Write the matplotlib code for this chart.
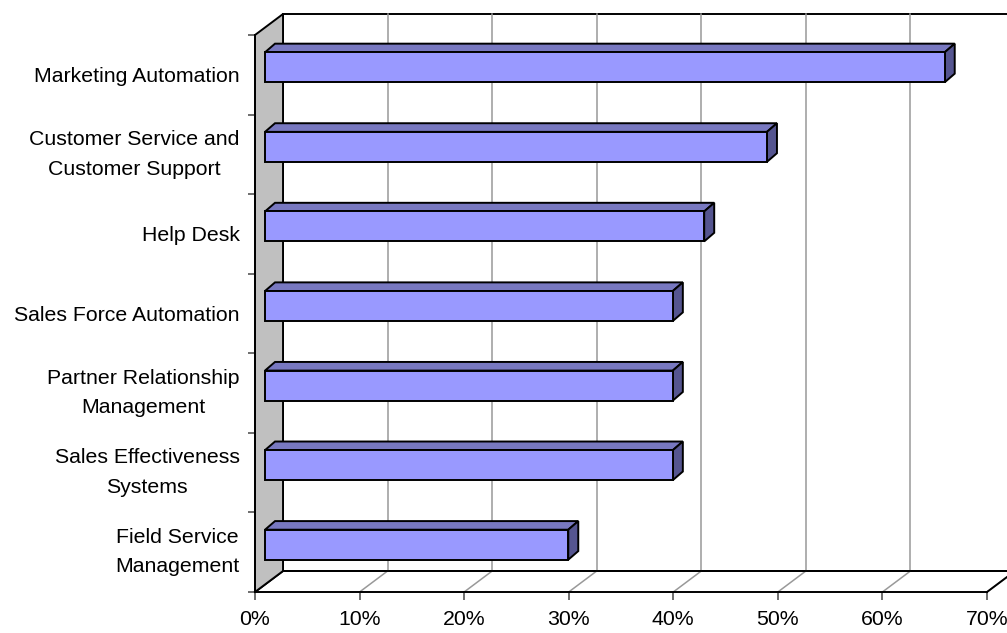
import matplotlib
matplotlib.use("Agg")
import matplotlib.pyplot as plt
from matplotlib.patches import Polygon, Rectangle

plt.rcParams['font.family'] = ['Liberation Sans', 'DejaVu Sans']

# --- data ---
categories = ["Marketing Automation",
              "Customer Service and\nCustomer Support",
              "Help Desk",
              "Sales Force Automation",
              "Partner Relationship\nManagement",
              "Sales Effectiveness\nSystems",
              "Field Service\nManagement"]
values = [65, 48, 42, 39, 39, 39, 29]
x_ticks = [0, 10, 20, 30, 40, 50, 60, 70]
x_labels = ["0%", "10%", "20%", "30%", "40%", "50%", "60%", "70%"]

# --- 3d look (offsets in data units) ---
DX = 2.68      # depth shift along x (percent)
DY = 0.264     # depth shift along y (category units)
D0, D1 = 0.357, 0.714   # bar depth range as fraction of wall depth
BAR_H = 0.377
XMAX = 70
n = len(categories)

FRONT = '#9999FF'
TOP = '#7878C0'
SIDE = '#555590'
GRID = '#999999'
LW = 1.4
FS = 15.3

fig = plt.figure(figsize=(10.07, 6.33), dpi=100)
ax = fig.add_axes([255 / 1007, 41 / 633, 732 / 1007, 557 / 633])
ax.set_xlim(0, XMAX)
ax.set_ylim(0, n)

# back wall
ax.add_patch(Rectangle((DX, DY), XMAX, n, facecolor='white', edgecolor='black',
                       lw=LW, clip_on=False, zorder=1))
# gridlines on back wall + floor
for t in x_ticks[1:]:
    ax.plot([t + DX, t + DX], [DY, n + DY], color=GRID, lw=1.1, clip_on=False, zorder=2)
    ax.plot([t, t + DX], [0, DY], color=GRID, lw=1.1, clip_on=False, zorder=2)
# floor edges
ax.plot([DX, XMAX + DX], [DY, DY], color='black', lw=LW, clip_on=False, zorder=3)
ax.plot([XMAX, XMAX + DX], [0, DY], color='black', lw=LW, clip_on=False, zorder=3)
ax.plot([0, DX], [0, DY], color='black', lw=LW, clip_on=False, zorder=3)
# left wall
ax.add_patch(Polygon([(0, 0), (DX, DY), (DX, n + DY), (0, n)], closed=True,
                     facecolor='#C0C0C0', edgecolor='black', lw=LW,
                     clip_on=False, zorder=3))

# bars
for i, v in enumerate(values):
    c = n - 0.5 - i
    x0 = D0 * DX
    y0 = c + D0 * DY - BAR_H / 2
    ddx = (D1 - D0) * DX
    ddy = (D1 - D0) * DY * 1.15
    ax.add_patch(Polygon([(x0, y0 + BAR_H), (x0 + v, y0 + BAR_H),
                          (x0 + v + ddx, y0 + BAR_H + ddy), (x0 + ddx, y0 + BAR_H + ddy)],
                         closed=True, facecolor=TOP, edgecolor='black', lw=LW, zorder=5))
    ax.add_patch(Polygon([(x0 + v, y0), (x0 + v + ddx, y0 + ddy),
                          (x0 + v + ddx, y0 + BAR_H + ddy), (x0 + v, y0 + BAR_H)],
                         closed=True, facecolor=SIDE, edgecolor='black', lw=LW, zorder=5))
    ax.add_patch(Rectangle((x0, y0), v, BAR_H, facecolor=FRONT, edgecolor='black',
                           lw=LW, zorder=6))

# axes
for s in ['top', 'right']:
    ax.spines[s].set_visible(False)
for s in ['left', 'bottom']:
    ax.spines[s].set_linewidth(LW)
    ax.spines[s].set_zorder(4)

ax.set_xticks(x_ticks)
ax.set_xticklabels(x_labels, fontsize=FS)
ax.tick_params(axis='x', direction='out', length=6, width=1.2, pad=7, color='#555555')

ax.set_yticks(range(n + 1))
ax.set_yticklabels([])
ax.set_yticks([n - 0.5 - i for i in range(n)], minor=True)
ax.set_yticklabels(categories, minor=True, fontsize=FS)
ax.tick_params(axis='y', which='major', direction='out', length=5, width=1.2, color='#555555')
ax.tick_params(axis='y', which='minor', length=0, pad=11)
for lbl in ax.get_yticklabels(minor=True):
    lbl.set_multialignment('center')
    lbl.set_linespacing(1.7)
    if '\n' in lbl.get_text():
        lbl.set_verticalalignment('center')

fig.savefig('out.png', dpi=100)
